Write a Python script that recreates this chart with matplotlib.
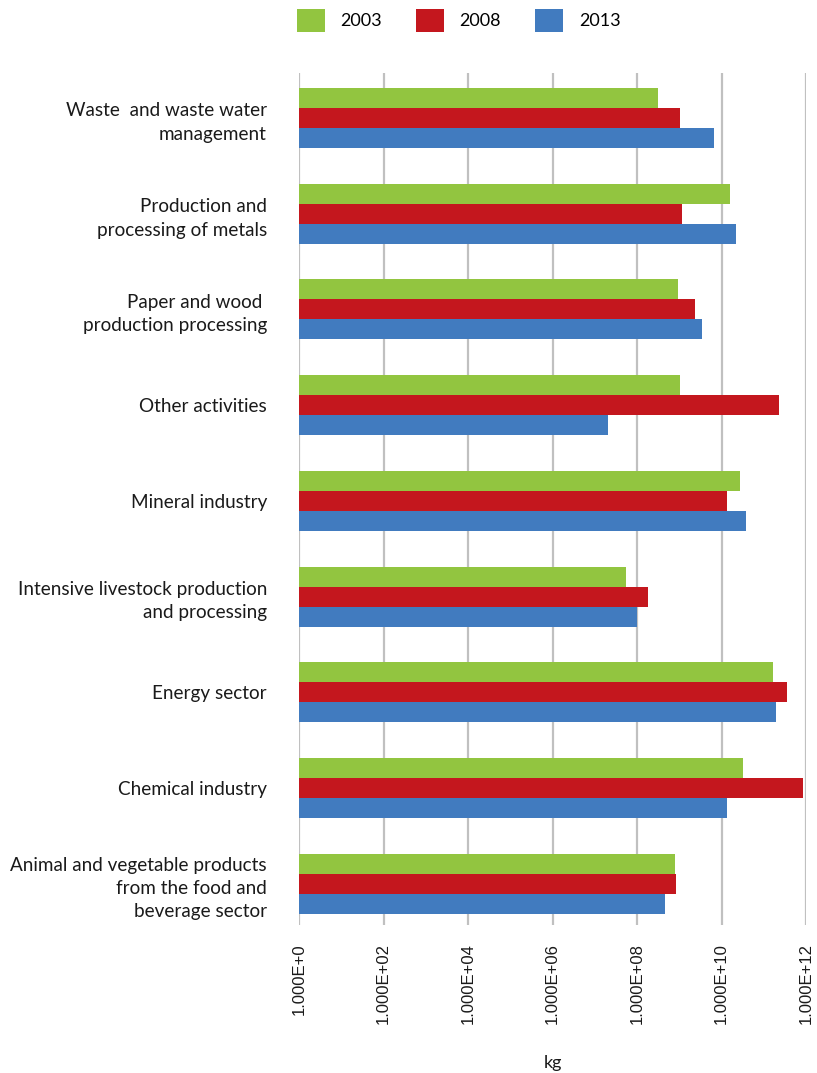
import numpy as np
import matplotlib
matplotlib.use('Agg')
import matplotlib.pyplot as plt

# Emissions per sector (kg), top to bottom
sectors = ['Waste  and waste water\nmanagement',
           'Production and\nprocessing of metals',
           'Paper and wood \nproduction processing',
           'Other activities',
           'Mineral industry',
           'Intensive livestock production\nand processing',
           'Energy sector',
           'Chemical industry',
           'Animal and vegetable products\nfrom the food and\nbeverage sector']
years = ['2003', '2008', '2013']
v2003 = [3.1e8, 1.62e10, 9.5e8, 1.07e9, 2.8e10, 5.6e7, 1.7e11, 3.3e10, 7.8e8]
v2008 = [1.02e9, 1.15e9, 2.3e9, 2.24e11, 1.32e10, 1.86e8, 3.6e11, 8.7e11, 8.5e8]
v2013 = [6.5e9, 2.24e10, 3.55e9, 2.1e7, 3.7e10, 9.8e7, 2.0e11, 1.32e10, 4.5e8]
xticks = [1e0, 1e2, 1e4, 1e6, 1e8, 1e10, 1e12]
xlabels = ['1.000E+0', '1.000E+02', '1.000E+04', '1.000E+06',
           '1.000E+08', '1.000E+10', '1.000E+12']
colors = ['#92c540', '#c4171e', '#417bbf']

fig = plt.figure(figsize=(8.17, 10.73), dpi=100)
ax = fig.add_axes([299/817, 148/1073, 507/817, 852/1073])

n = len(sectors)
y = np.arange(n)[::-1]
h = 0.209
for i, (vals, col, yr) in enumerate(zip([v2003, v2008, v2013], colors, years)):
    ax.barh(y + (1 - i) * h, np.array(vals) - 1, left=1, height=h,
            color=col, label=yr, zorder=3)

ax.set_xscale('log')
ax.set_xlim(1, 1e12)
ax.set_ylim(-0.43, n - 1 + 0.47)
ax.set_xticks(xticks)
ax.set_xticklabels(xlabels, rotation=90, fontsize=12, family='Liberation Sans', color='#1a1a1a')
ax.minorticks_off()
ax.set_yticks(y)
ax.set_yticklabels(sectors, fontsize=13.6, family='Lato', color='#1a1a1a',
                   linespacing=1.45, ha='right', multialignment='right')
ax.tick_params(axis='y', length=0, pad=32 * 0.72)
ax.tick_params(axis='x', length=0, pad=18 * 0.72)
ax.grid(axis='x', color='#c0c0c0', linewidth=1.6, zorder=0)
for s in ax.spines.values():
    s.set_visible(False)
ax.set_xlabel('kg', fontsize=13, family='Lato', color='#1a1a1a', labelpad=22)

fig.legend(loc='upper left', bbox_to_anchor=(297/817, 1 - 9/1073), ncol=3,
           frameon=False, prop={'family': 'Lato', 'size': 13},
           handlelength=1.55, handleheight=1.55, handletextpad=0.85,
           columnspacing=1.9, borderpad=0, borderaxespad=0)

fig.savefig('out.png', dpi=100)
